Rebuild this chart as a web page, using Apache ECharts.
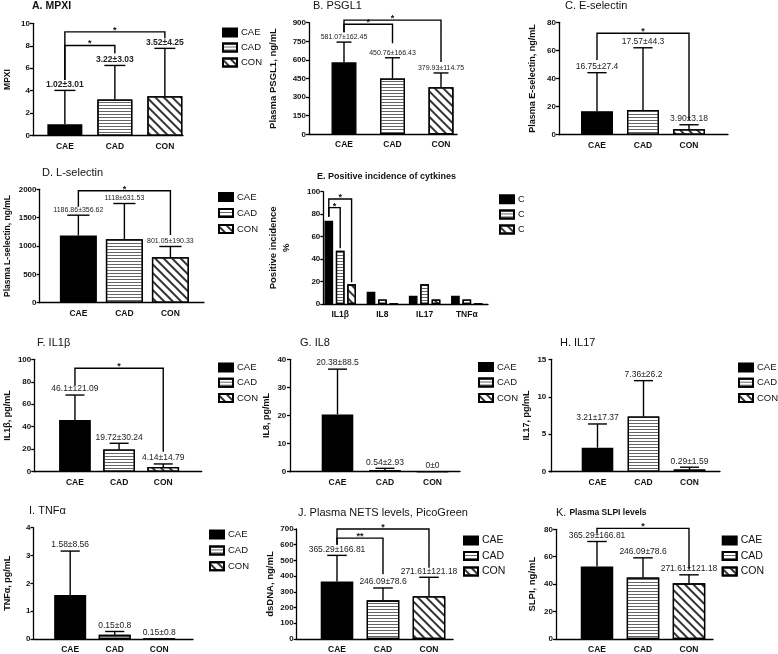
<!DOCTYPE html>
<html>
<head>
<meta charset="utf-8">
<script src="https://cdn.jsdelivr.net/npm/echarts@6/dist/echarts.min.js"></script>
<style>
  html, body { margin: 0; padding: 0; background: #fff; }
  #chart { width: 778px; height: 654px; }
</style>
</head>
<body>
<div id="chart"></div>
<script>
// ---- data ----
const groups = ['CAE', 'CAD', 'CON'];
const cytokines = ['IL1β', 'IL8', 'IL17', 'TNFα'];

// A. MPXI
const mpxiMean = [1.02, 3.22, 3.52];
const mpxiUpper = [4.03, 6.25, 7.77];
const mpxiText = ['1.02±3.01', '3.22±3.03', '3.52±4.25'];
const mpxiSig = [[0, 1, 8.03, 4.95, 7.32, '*'], [0, 2, 9.24, 4.95, 8.66, '*']];
const mpxiAxis = [0, 10, 2];

// B. PSGL1
const psglMean = [581.07, 450.76, 379.93];
const psglUpper = [743.5, 617.2, 494.7];
const psglText = ['581.07±162.45', '450.76±166.43', '379.93±114.75'];
const psglSig = [[0, 1, 887, 822, 735, '*'], [0, 2, 921, 822, 583, '*']];
const psglAxis = [0, 900, 150];

// C. E-selectin
const eselMean = [16.75, 17.57, 3.90];
const eselUpper = [44.15, 61.87, 7.08];
const eselText = ['16.75±27.4', '17.57±44.3', '3.90±3.18'];
const eselSig = [[0, 2, 72.2, 53.2, 10.5, '*']];
const eselAxis = [0, 80, 20];

// D. L-selectin
const lselMean = [1186.86, 1118, 801.05];
const lselUpper = [1543.5, 1749.5, 991.4];
const lselText = ['1186.86±356.62', '1118±631.53', '801.05±190.33'];
const lselSig = [[0, 2, 1975, 1693, 1194, '*']];
const lselAxis = [0, 2000, 500];

// E. Positive incidence (%)
const incCAE = [74.2, 11, 7.4, 7.4];
const incCAD = [47.5, 4, 17.5, 4];
const incCON = [17.5, 0, 4, 0];
const incSig = [[0, 0, 85.8, 77.7, 49.6, '*', -1, 0], [0, 0, 93.5, 77.7, 19.3, '*', -1, 1]];
const incAxis = [0, 100, 20];

// F. IL1β
const il1bMean = [46.1, 19.72, 4.14];
const il1bUpper = [68.2, 25.3, 6.9];
const il1bText = ['46.1±121.09', '19.72±30.24', '4.14±14.79'];
const il1bSig = [[0, 2, 92, 77, 17.8, '*']];
const il1bAxis = [0, 100, 20];

// G. IL8
const il8Mean = [20.38, 0.54, 0];
const il8Upper = [36.5, 1.2, 0];
const il8Text = ['20.38±88.5', '0.54±2.93', '0±0'];
const il8Axis = [0, 40, 10];

// H. IL17
const il17Mean = [3.21, 7.36, 0.29];
const il17Upper = [6.37, 12.15, 0.6];
const il17Text = ['3.21±17.37', '7.36±26.2', '0.29±1.59'];
const il17Axis = [0, 15, 5];

// I. TNFα
const tnfMean = [1.58, 0.15, 0];
const tnfUpper = [3.16, 0.27, 0];
const tnfText = ['1.58±8.56', '0.15±0.8', '0.15±0.8'];
const tnfAxis = [0, 4, 1];

// J. NETs
const netsMean = [365.29, 246.09, 271.61];
const netsUpper = [532.1, 324.7, 392.8];
const netsText = ['365.29±166.81', '246.09±78.6', '271.61±121.18'];
const netsSig = [[0, 1, 642, 600, 412, '**'], [0, 2, 700, 600, 454, '*']];
const netsAxis = [0, 700, 100];

// K. SLPI
const slpiMean = [52.8, 44.9, 40.6];
const slpiUpper = [71.1, 59.2, 46.8];
const slpiText = ['365.29±166.81', '246.09±78.6', '271.61±121.18'];
const slpiSig = [[0, 2, 80.7, 77, 50.9, '*']];
const slpiAxis = [0, 80, 20];

// ---- styles / layout ----
const FONT = "'Liberation Sans', Arial, sans-serif";
const barStyles = [
  { color: '#000', borderColor: '#000', borderWidth: 1.3 },
  { color: '#fff', borderColor: '#000', borderWidth: 1.3,
    decal: { symbol: 'rect', symbolSize: 1, dashArrayX: [1, 0], dashArrayY: [1, 2], rotation: 0, color: '#666' } },
  { color: '#fff', borderColor: '#000', borderWidth: 1.3,
    decal: { symbol: 'rect', symbolSize: 1, dashArrayX: [1, 0], dashArrayY: [2, 4], rotation: Math.PI / 4, color: '#333' } }
];

const panels = [
  { title: '{a|A. MPXI}', tx: 32, ty: 1, yName: 'MPXI', nameGap: 19, nameSize: 8.5,
    axis: mpxiAxis, mean: mpxiMean, upper: mpxiUpper, text: mpxiText, sig: mpxiSig,
    axisX: 30, endX: 183, top: 23.3, bottom: 135.7, c1: 62.5, step: 51, barW: 35, lbl: 'bold 8.5px',
    legend: [222, 27.5, 14.5] },
  { title: 'B. PSGL1', tx: 313, ty: 0, yName: 'Plasma PSGL1, ng/mL', nameGap: 29, nameSize: 9.5,
    axis: psglAxis, mean: psglMean, upper: psglUpper, text: psglText, sig: psglSig,
    axisX: 309, endX: 457, top: 22.7, bottom: 134.3, c1: 344, step: 48.5, barW: 25, lbl: '7px' },
  { title: 'C. E-selectin', tx: 565, ty: 0, yName: 'Plasma E-selectin, ng/mL', nameGap: 19.5, nameSize: 9,
    axis: eselAxis, mean: eselMean, upper: eselUpper, text: eselText, sig: eselSig,
    axisX: 559, endX: 728, top: 22.3, bottom: 134.7, c1: 597, step: 46, barW: 32, lbl: '8.5px' },
  { title: 'D. L-selectin', tx: 42, ty: 167.5, yName: 'Plasma L-selectin, ng/mL', nameGap: 25.5, nameSize: 8.5,
    axis: lselAxis, mean: lselMean, upper: lselUpper, text: lselText, sig: lselSig,
    axisX: 36, endX: 204, top: 189.3, bottom: 302.7, c1: 75.7, step: 47, barW: 37, lbl: '7px',
    legend: [218, 192, 15.5] },
  { title: 'F. IL1β', tx: 37, ty: 337, yName: 'IL1β, pg/mL', nameGap: 19.5, nameSize: 9,
    axis: il1bAxis, mean: il1bMean, upper: il1bUpper, text: il1bText, sig: il1bSig,
    axisX: 31, endX: 201.7, top: 359.3, bottom: 471.7, c1: 72.5, step: 45, barW: 31.7, lbl: '8.5px',
    legend: [218, 362.5, 14.7] },
  { title: 'G. IL8', tx: 300, ty: 337, yName: 'IL8, pg/mL', nameGap: 10, nameSize: 9,
    axis: il8Axis, mean: il8Mean, upper: il8Upper, text: il8Text, sig: [],
    axisX: 289.3, endX: 460, top: 359.3, bottom: 471.7, c1: 337.5, step: 47.5, barW: 31.6, lbl: '8.5px',
    legend: [478, 362, 15] },
  { title: 'H. IL17', tx: 560, ty: 337, yName: 'IL17, pg/mL', nameGap: 10, nameSize: 9,
    axis: il17Axis, mean: il17Mean, upper: il17Upper, text: il17Text, sig: [],
    axisX: 549.3, endX: 720, top: 359.3, bottom: 471.7, c1: 597.5, step: 46, barW: 31.6, lbl: '8.5px',
    legend: [738, 362.5, 14.7] },
  { title: 'I. TNFα', tx: 29, ty: 505, yName: 'TNFα, pg/mL', nameGap: 19.5, nameSize: 9,
    axis: tnfAxis, mean: tnfMean, upper: tnfUpper, text: tnfText, sig: [],
    axisX: 30, endX: 193, top: 527.7, bottom: 639.3, c1: 67.5, step: 45.5, barW: 32, lbl: '8.5px',
    legend: [209, 529.5, 15.4] },
  { title: 'J. Plasma NETS levels, PicoGreen', tx: 298, ty: 507, yName: 'dsDNA, ng/mL', nameGap: 18, nameSize: 9.5,
    axis: netsAxis, mean: netsMean, upper: netsUpper, text: netsText, sig: netsSig,
    axisX: 296.7, endX: 453, top: 529, bottom: 641, c1: 337, step: 46, barW: 32.6, lbl: '8.5px',
    legend: [463, 535, 15], legendFont: 10.5 },
  { title: '{n|K. }{k|Plasma SLPI levels}', tx: 556, ty: 507, yName: 'SLPI, ng/mL', nameGap: 17.5, nameSize: 9.5,
    axis: slpiAxis, mean: slpiMean, upper: slpiUpper, text: slpiText, sig: slpiSig,
    axisX: 556, endX: 713, top: 529.3, bottom: 641, c1: 597, step: 46, barW: 32.5, lbl: '8.5px',
    legend: [721.7, 535, 15], legendFont: 10.5 }
];

// error bar + value label drawn through the axis scales
function errRender(labels, capW, font) {
  return function (params, api) {
    const base = api.coord([api.value(0), api.value(1)]);
    const top = api.coord([api.value(0), api.value(2)]);
    const children = [];
    if (top[1] < base[1] - 0.5) {
      children.push({ type: 'line', shape: { x1: top[0], y1: base[1], x2: top[0], y2: top[1] },
        style: { stroke: '#000', lineWidth: 1.4 } });
      children.push({ type: 'line', shape: { x1: top[0] - capW / 2, y1: top[1], x2: top[0] + capW / 2, y2: top[1] },
        style: { stroke: '#000', lineWidth: 1.4 } });
    }
    children.push({ type: 'text', style: { text: labels[params.dataIndex], x: top[0], y: top[1] - 1.5,
      align: 'center', verticalAlign: 'bottom', textAlign: 'center', textVerticalAlign: 'bottom',
      font: font + ' ' + FONT, fill: '#222' } });
    return { type: 'group', children: children };
  };
}

// significance bracket
function sigRender(sig, slotStep) {
  return function (params, api) {
    const s = sig[params.dataIndex];
    const pL = api.coord([s[0] + 1, s[2]]);
    const pR = api.coord([s[1] + 1, s[2]]);
    const yL = api.coord([s[0] + 1, s[3]])[1];
    const yR = api.coord([s[1] + 1, s[4]])[1];
    const xL = pL[0] + (s[6] || 0) * slotStep;
    const xR = pR[0] + (s[7] || 0) * slotStep;
    return { type: 'group', children: [
      { type: 'polyline', shape: { points: [[xL, yL], [xL, pL[1]], [xR, pL[1]], [xR, yR]] },
        style: { stroke: '#000', lineWidth: 1.4, fill: null } },
      { type: 'text', style: { text: s[5], x: (xL + xR) / 2, y: pL[1] - 1.5,
        align: 'center', verticalAlign: 'middle', textAlign: 'center', textVerticalAlign: 'middle',
        font: 'bold 9px ' + FONT, fill: '#111' } }
    ] };
  };
}

function yAxisFor(p, i) {
  return {
    gridIndex: i, type: 'value', min: p.axis[0], max: p.axis[1], interval: p.axis[2],
    axisLine: { show: true, lineStyle: { color: '#000', width: 1.3 } },
    axisTick: { show: true, length: 3, lineStyle: { color: '#000', width: 1.3 } },
    axisLabel: { fontSize: 8, fontWeight: 'bold', color: '#111', margin: 3, fontFamily: FONT,
      formatter: v => String(v) },
    splitLine: { show: false },
    name: p.yName, nameLocation: 'middle', nameRotate: 90, nameGap: p.nameGap,
    nameTextStyle: { fontSize: p.nameSize, fontWeight: 'bold', color: '#111', fontFamily: FONT, lineHeight: 13 }
  };
}

function xAxisFor(p, i, names) {
  return {
    gridIndex: i, type: 'value',
    min: 1 - (p.c1 - p.axisX) / p.step, max: 1 + (p.endX - p.c1) / p.step,
    axisLine: { show: true, onZero: false, lineStyle: { color: '#000', width: 1.3 } },
    axisTick: { show: false }, splitLine: { show: false },
    axisLabel: { customValues: names.map((n, k) => k + 1), formatter: v => names[Math.round(v) - 1] || '',
      fontSize: 8.5, fontWeight: 'bold', color: '#111', margin: 6, fontFamily: FONT }
  };
}

const option = { animation: false, title: [], grid: [], xAxis: [], yAxis: [], series: [], legend: [],
  textStyle: { fontFamily: FONT } };

const richTitle = {
  a: { fontSize: 10.5, fontWeight: 'bold', color: '#111', fontFamily: FONT },
  b: { fontSize: 9, fontWeight: 'bold', color: '#111', fontFamily: FONT },
  k: { fontSize: 8.5, fontWeight: 'bold', color: '#111', fontFamily: FONT },
  n: { fontSize: 11, color: '#111', fontFamily: FONT }
};

function addLegend(pos, font) {
  const fs = font || 9.5;
  option.legend.push({ data: groups, orient: 'vertical', left: pos[0], top: pos[1], padding: 0,
    itemWidth: 14, itemHeight: 8, itemGap: pos[2] - fs, icon: 'rect', selectedMode: false,
    textStyle: { fontSize: fs, color: '#111', fontFamily: FONT, padding: [0, 0, 0, -1] } });
}

let gi = 0;
panels.forEach(function (p) {
  const i = gi++;
  option.title.push({ text: p.title, left: p.tx, top: p.ty, padding: 0,
    textStyle: { fontSize: 11, fontWeight: 'normal', color: '#111', fontFamily: FONT, rich: richTitle } });
  option.grid.push({ left: p.axisX, top: p.top, width: p.endX - p.axisX, height: p.bottom - p.top });
  option.xAxis.push(xAxisFor(p, i, groups));
  option.yAxis.push(yAxisFor(p, i));
  groups.forEach(function (g, k) {
    option.series.push({ type: 'bar', name: g, xAxisIndex: i, yAxisIndex: i, barWidth: p.barW, barGap: '-100%',
      data: [[k + 1, p.mean[k]]], itemStyle: barStyles[k], silent: true });
  });
  option.series.push({ type: 'custom', xAxisIndex: i, yAxisIndex: i, clip: false, silent: true, z: 5,
    data: p.mean.map((m, k) => [k + 1, m, p.upper[k]]),
    renderItem: errRender(p.text, p.barW * 0.6, p.lbl) });
  if (p.sig.length) {
    option.series.push({ type: 'custom', xAxisIndex: i, yAxisIndex: i, clip: false, silent: true, z: 6,
      data: p.sig.map(s => [s[0] + 1, s[2]]), renderItem: sigRender(p.sig, 0) });
  }
  if (p.legend) addLegend(p.legend, p.legendFont);
});

// E. grouped incidence panel
(function () {
  const i = gi++;
  const p = { axisX: 323.3, endX: 488, top: 191.7, bottom: 304, c1: 340.2, step: 42.2, barW: 8.7,
    axis: incAxis, yName: 'Positive incidence\n%', nameGap: 30, nameSize: 9.5 };
  const gap = 0.31;
  option.title.push({ text: '{b|E. Positive incidence of cytkines}', left: 317, top: 172, padding: 0,
    textStyle: { rich: richTitle } });
  option.grid.push({ left: p.axisX, top: p.top, width: p.endX - p.axisX, height: p.bottom - p.top });
  option.xAxis.push(xAxisFor(p, i, cytokines));
  option.yAxis.push(yAxisFor(p, i));
  [incCAE, incCAD, incCON].forEach(function (arr, k) {
    option.series.push({ type: 'bar', name: groups[k], xAxisIndex: i, yAxisIndex: i, barWidth: p.barW,
      barGap: (gap * 100) + '%', data: arr.map((v, c) => [c + 1, v]), itemStyle: barStyles[k], silent: true });
  });
  option.series.push({ type: 'custom', xAxisIndex: i, yAxisIndex: i, clip: false, silent: true, z: 6,
    data: incSig.map(s => [s[0] + 1, s[2]]), renderItem: sigRender(incSig, p.barW * (1 + gap)) });
  addLegend([499, 194.3, 14.6]);
})();

// the E legend is cut off in the source figure
option.graphic = [{ type: 'rect', shape: { x: 524, y: 185, width: 80, height: 55 }, style: { fill: '#fff' }, z: 100 }];

const chart = echarts.init(document.getElementById('chart'), null, { renderer: 'canvas' });
chart.setOption(option);
</script>
</body>
</html>
